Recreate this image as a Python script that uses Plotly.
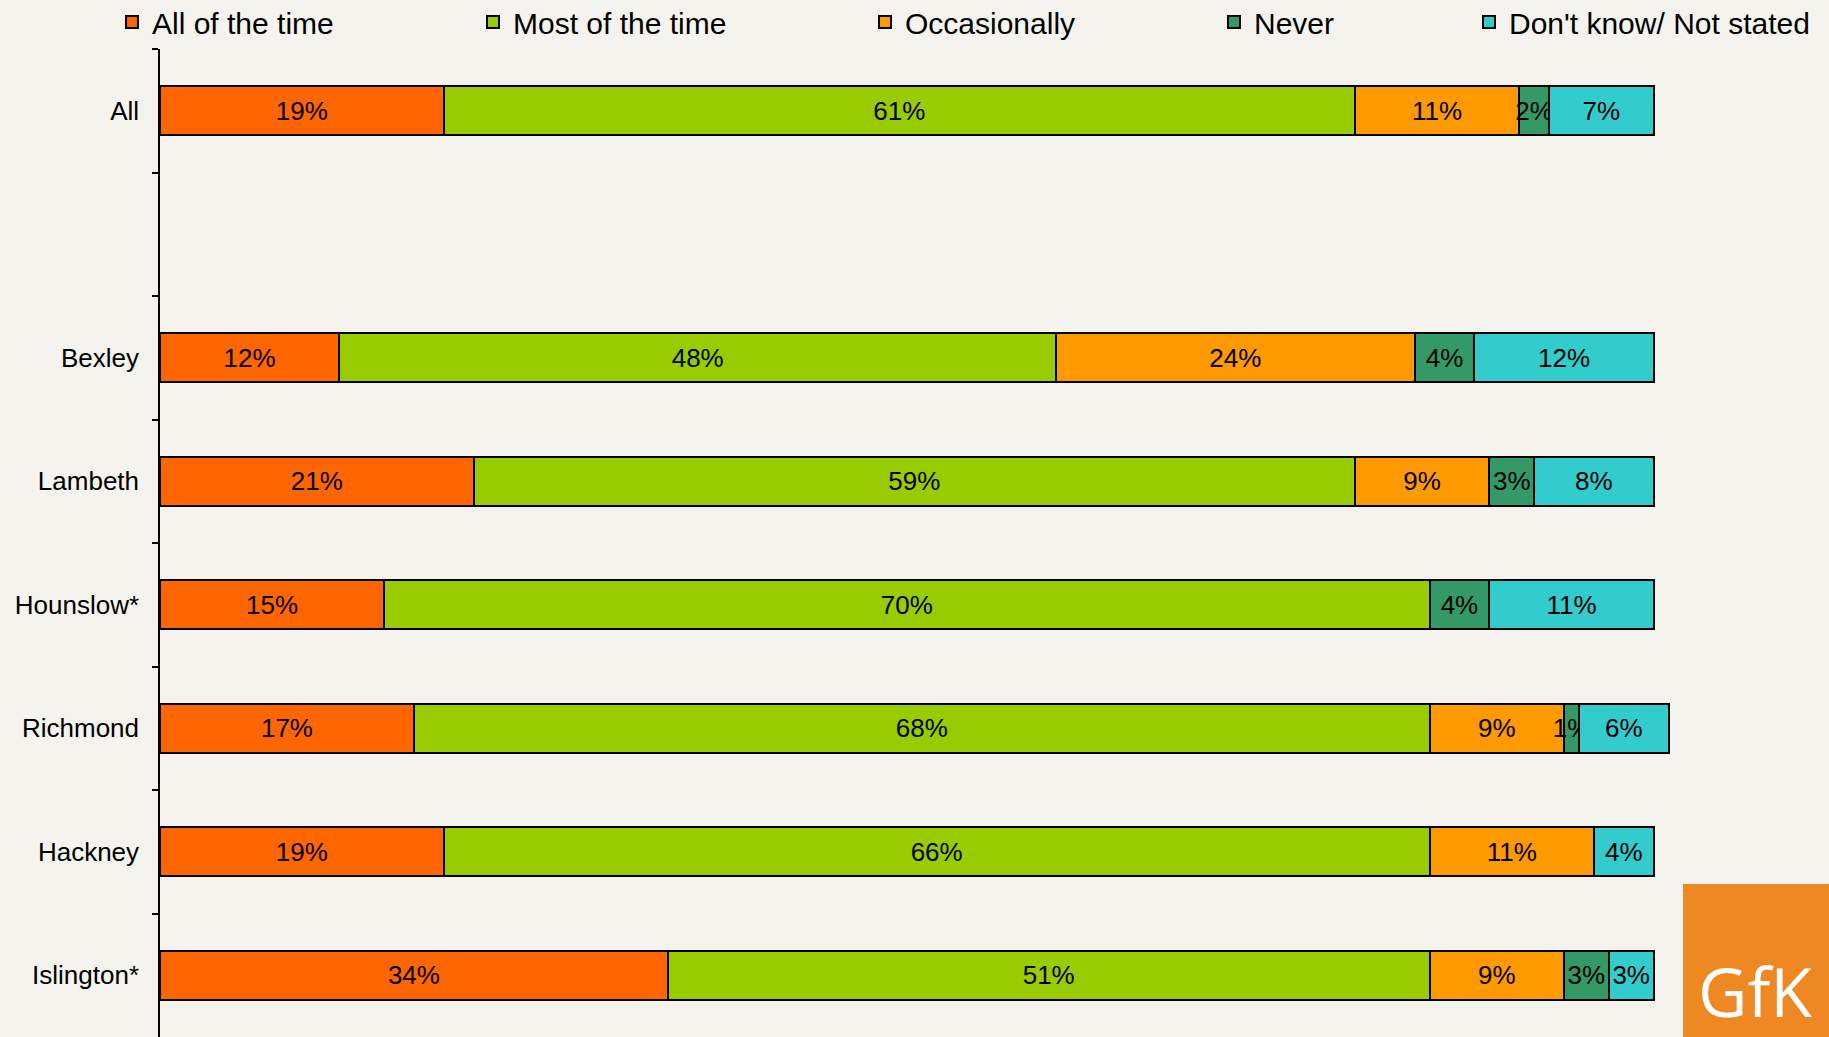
import plotly.graph_objects as go

# Response shares (%) per borough, top to bottom; " " is an empty spacer row
categories = ["All", " ", "Bexley", "Lambeth", "Hounslow*", "Richmond", "Hackney", "Islington*"]
all_of_the_time = [19, None, 12, 21, 15, 17, 19, 34]
most_of_the_time = [61, None, 48, 59, 70, 68, 66, 51]
occasionally = [11, None, 24, 9, 0, 9, 11, 9]
never = [2, None, 4, 3, 4, 1, 0, 3]
dont_know = [7, None, 12, 8, 11, 6, 4, 3]

series = [
    ("All of the time", all_of_the_time, "#FF6600"),
    ("Most of the time", most_of_the_time, "#99CC00"),
    ("Occasionally", occasionally, "#FF9900"),
    ("Never", never, "#339966"),
    ("Don't know/ Not stated", dont_know, "#33CCCC"),
]

W, H = 1829, 1037
ML, MR, MT, MB = 160, 153, 49, 0
XMAX = 101.5
plot_w = W - ML - MR
plot_h = H - MT - MB

# legend text left edges in pixels
legend_text_px = [152, 513, 905, 1254, 1509]
FONT = "Liberation Sans, Arial, sans-serif"

fig = go.Figure()
for i, (name, vals, color) in enumerate(series):
    lg = "legend" if i == 0 else f"legend{i + 1}"
    fig.add_trace(go.Bar(
        y=categories,
        x=vals,
        name=name,
        orientation="h",
        marker=dict(color=color, line=dict(color="black", width=2)),
        text=[f"{v}%" if v else "" for v in vals],
        textposition="inside",
        insidetextanchor="middle",
        textangle=0,
        textfont=dict(family=FONT, size=26, color="black"),
        constraintext="none",
        width=0.4,
        legend=lg,
        hoverinfo="skip",
    ))

layout_legends = {}
for i, px in enumerate(legend_text_px):
    key = "legend" if i == 0 else f"legend{i + 1}"
    layout_legends[key] = dict(
        x=(px - 40 - ML) / plot_w,
        xanchor="left",
        y=1 + (MT - 22) / plot_h,
        yanchor="middle",
        orientation="h",
        bgcolor="rgba(0,0,0,0)",
        borderwidth=0,
        font=dict(family=FONT, size=30, color="black"),
    )

fig.update_layout(
    width=W,
    height=H,
    margin=dict(l=ML, r=MR, t=MT, b=MB, pad=0, autoexpand=False),
    barmode="stack",
    bargap=0.6,
    paper_bgcolor="#F4F3EE",
    plot_bgcolor="#F4F3EE",
    uniformtext=dict(minsize=26, mode="show"),
    xaxis=dict(range=[0, XMAX], visible=False, fixedrange=True),
    yaxis=dict(
        type="category",
        categoryorder="array",
        categoryarray=categories,
        range=[len(categories) - 0.5, -0.5],
        showline=True,
        linecolor="black",
        linewidth=1.5,
        ticks="outside",
        tickson="boundaries",
        ticklen=6,
        tickcolor="black",
        tickwidth=1.5,
        showgrid=False,
        zeroline=False,
        ticklabelstandoff=14,
        tickfont=dict(family=FONT, size=26, color="black"),
    ),
    showlegend=True,
    **layout_legends,
)

# GfK logo block, bottom right corner
fig.add_shape(
    type="rect", xref="paper", yref="paper",
    x0=(1683 - ML) / plot_w, x1=(W - ML) / plot_w,
    y0=-MB / plot_h,
    y1=(H - 884 - MB) / plot_h,
    fillcolor="#EE8822", line=dict(width=0), layer="above",
)
fig.add_annotation(
    xref="paper", yref="paper",
    x=(1755 - ML) / plot_w, y=(H - 990 - MB) / plot_h,
    text="GfK", showarrow=False,
    font=dict(family="Open Sans, sans-serif", size=68, color="white"),
    xanchor="center", yanchor="middle",
)

fig.write_html("out.html")
